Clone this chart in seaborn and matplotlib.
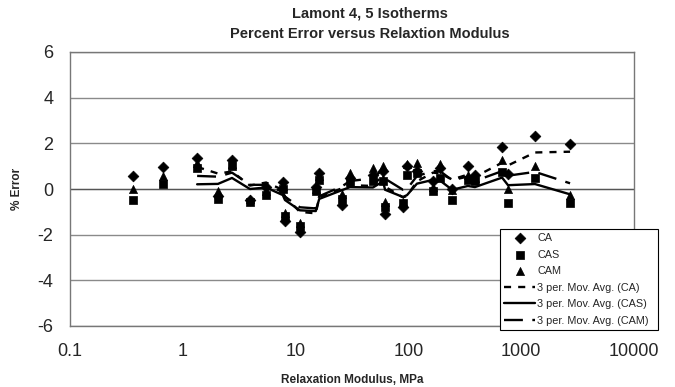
import numpy as np
import pandas as pd
import matplotlib
matplotlib.use("Agg")
import matplotlib.pyplot as plt
import seaborn as sns

# ---- data ----
modulus = [0.36, 0.67, 1.34, 2.05, 2.73, 3.94, 5.47, 7.7, 8.05, 10.9, 15.1, 16.2,
           25.8, 30.3, 48.5, 59.6, 62.1, 89.5, 97.3, 119, 165, 191, 244, 337, 389,
           677, 764, 1325, 2711]
err_ca = [0.57, 0.98, 1.35, -0.3, 1.25, -0.5, 0.1, 0.3, -1.4, -1.9, 0.1, 0.7,
          -0.7, 0.5, 0.6, 0.8, -1.1, -0.8, 1.0, 0.8, 0.35, 0.9, 0.0, 1.0, 0.6,
          1.85, 0.65, 2.3, 1.95]
err_cas = [-0.5, 0.22, 0.9, -0.45, 1.0, -0.55, -0.25, 0.0, -1.2, -1.6, -0.1, 0.4,
           -0.45, 0.3, 0.35, 0.35, -0.8, -0.6, 0.6, 0.7, -0.1, 0.5, -0.5, 0.4, 0.35,
           0.75, -0.6, 0.5, -0.6]
err_cam = [0.0, 0.57, 1.15, -0.1, 1.1, -0.45, -0.1, 0.15, -1.05, -1.5, 0.0, 0.55,
           -0.2, 0.7, 0.9, 1.0, -0.55, -0.55, 1.1, 1.15, 0.1, 1.1, -0.05, 0.6, 0.5,
           1.25, 0.0, 1.0, -0.25]
series_names = ["CA", "CAS", "CAM"]
y_ticks = [-6, -4, -2, 0, 2, 4, 6]
x_ticks = [0.1, 1, 10, 100, 1000, 10000]
x_tick_labels = ["0.1", "1", "10", "100", "1000", "10000"]

df = pd.DataFrame({"Modulus": modulus, "CA": err_ca, "CAS": err_cas, "CAM": err_cam})
long = df.melt(id_vars="Modulus", value_vars=series_names,
               var_name="Series", value_name="Error")

# 3-period moving averages (Excel trendline)
ma = df.copy()
for s in series_names:
    ma[s] = df[s].rolling(3).mean()
ma = ma.dropna()

sns.set_theme(style="white")
plt.rcParams['font.family'] = ['Liberation Sans', 'DejaVu Sans']

fig = plt.figure(figsize=(6.75, 3.87), dpi=100)
ax = fig.add_axes([70/675, 1-326/387, (634-70)/675, (326-52)/387])

markers = {"CA": "D", "CAS": "s", "CAM": "^"}
sizes = {"CA": 30, "CAS": 30, "CAM": 34}
for s in series_names:
    sub = long[long["Series"] == s]
    sns.scatterplot(data=sub, x="Modulus", y="Error", marker=markers[s],
                    s=sizes[s], color="black", edgecolor="black", linewidth=0.5,
                    ax=ax, label=s, zorder=3)

styles = {"CA": (0, (3, 3)), "CAS": "-", "CAM": (0, (8, 4))}
for s in series_names:
    sns.lineplot(x=ma["Modulus"], y=ma[s], color="black", linewidth=1.7,
                 linestyle=styles[s], ax=ax, label=f"3 per. Mov. Avg. ({s})",
                 zorder=2, sort=False)

ax.set_xscale("log")
ax.set_xlim(0.1, 10000)
ax.set_ylim(-6, 6)
ax.set_yticks(y_ticks)
ax.set_yticklabels([str(t) for t in y_ticks])
ax.set_xticks(x_ticks)
ax.set_xticklabels(x_tick_labels)
ax.minorticks_off()
ax.tick_params(axis="y", labelsize=13, length=3, color="black", pad=9)
ax.tick_params(axis="x", labelsize=13, length=0, color="black", pad=12)
ax.grid(axis="y", color="#8a8a8a", linewidth=1.0)
ax.axhline(0, color="#555555", linewidth=0.9, zorder=1)
for sp in ax.spines.values():
    sp.set_color("#777777")
    sp.set_linewidth(1.0)

ax.set_xlabel("Relaxation Modulus, MPa", fontsize=8.5, fontweight="bold", labelpad=10)
ax.set_ylabel("% Error", fontsize=8.5, fontweight="bold", labelpad=10)

fig.text(370/675, 1-13/387, "Lamont 4, 5 Isotherms", ha="center", va="center",
         fontsize=10.5, fontweight="bold")
fig.text(370/675, 1-34/387, "Percent Error versus Relaxtion Modulus", ha="center",
         va="center", fontsize=10.5, fontweight="bold")

leg = ax.legend(loc="lower left", bbox_to_anchor=(500/675, 1-330/387, (658-500)/675, (330-225)/387),
                bbox_transform=fig.transFigure, mode="expand", frameon=True,
                fontsize=7.8, handlelength=2.8, handletextpad=0.25, borderpad=0.4,
                labelspacing=0.6, fancybox=False, borderaxespad=0)
leg.get_frame().set_edgecolor("black")
leg.get_frame().set_linewidth(0.8)
leg.get_frame().set_alpha(1)

fig.savefig("out.png", dpi=100)
